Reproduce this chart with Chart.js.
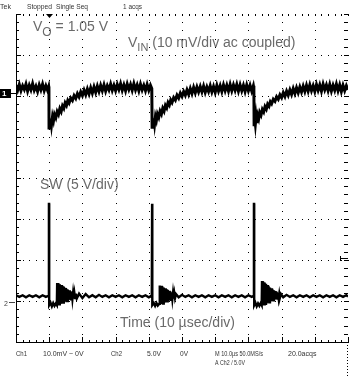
<!DOCTYPE html>
<html>
<head>
<meta charset="utf-8">
<script src="https://cdn.jsdelivr.net/npm/chart.js@4.4.0/dist/chart.umd.min.js"></script>
<style>
  html, body { margin: 0; padding: 0; background: #fff; }
  canvas { display: block; }
</style>
</head>
<body>
<canvas id="scopeChart" width="349" height="376"></canvas>
<script>
// scope screen: 10 div x 10 us, 8 div vertical (values are in divisions)
const timeRange = [0, 100];
const divRange = [-4, 4];

// Ch1 VIN (10 mV/div ac coupled), [time us, div]
const vinTrace = [
  [0,2.26],[0.5,2.14],[1,2.28],[1.5,2.13],[2,2.25],[2.5,2.16],[3,2.29],[3.5,2.12],[4,2.26],[4.5,2.15],
  [5,2.30],[5.5,2.14],[6,2.24],[6.5,2.11],[7,2.27],[7.5,2.15],[8,2.29],[8.5,2.13],[9,2.25],[9.5,2.14],[9.85,2.23],
  [9.92,2.18],[9.95,1.22],[10.1,1.42],[10.3,1.27],[10.5,1.45],[10.7,1.30],[11,1.50],[11.3,1.40],[11.6,1.55],
  [12,1.47],[12.4,1.62],[12.8,1.55],[13.2,1.69],[13.6,1.62],[14,1.76],[14.4,1.70],[14.8,1.83],[15.2,1.77],
  [15.6,1.89],[16,1.83],[16.5,1.95],[17,1.89],[17.5,2.01],[18,1.94],[18.5,2.06],[19,1.98],[19.5,2.10],
  [20,2.01],[20.5,2.14],[21,2.03],[21.5,2.17],[22,2.05],[22.5,2.20],[23,2.07],[23.5,2.22],[24,2.09],
  [24.5,2.24],[25,2.11],[25.5,2.26],[26,2.13],[26.5,2.27],[27,2.12],[27.5,2.25],[28,2.15],[28.5,2.29],
  [29,2.14],[29.5,2.26],[30,2.13],[30.5,2.28],[31,2.16],[31.5,2.30],[32,2.14],[32.5,2.27],[33,2.13],
  [33.5,2.29],[34,2.16],[34.5,2.28],[35,2.14],[35.5,2.30],[36,2.15],[36.5,2.27],[37,2.13],[37.5,2.29],
  [38,2.15],[38.5,2.26],[39,2.13],[39.5,2.28],[40,2.14],[40.5,2.26],[40.9,2.18],
  [41.0,1.24],[41.15,1.44],[41.35,1.29],[41.55,1.46],[41.75,1.32],[42,1.50],[42.3,1.41],[42.6,1.56],
  [43,1.48],[43.4,1.63],[43.8,1.56],[44.2,1.70],[44.6,1.63],[45,1.77],[45.4,1.71],[45.8,1.84],[46.2,1.78],
  [46.6,1.90],[47,1.84],[47.5,1.96],[48,1.90],[48.5,2.02],[49,1.95],[49.5,2.07],[50,1.99],[50.5,2.11],
  [51,2.02],[51.5,2.15],[52,2.04],[52.5,2.18],[53,2.06],[53.5,2.21],[54,2.08],[54.5,2.22],[55,2.10],
  [55.5,2.23],[56,2.10],[56.5,2.24],[57,2.09],[57.5,2.22],[58,2.11],[58.5,2.25],[59,2.10],[59.5,2.23],
  [60,2.09],[60.5,2.26],[61,2.12],[61.5,2.25],[62,2.11],[62.5,2.27],[63,2.13],[63.5,2.26],[64,2.12],
  [64.5,2.28],[65,2.13],[65.5,2.27],[66,2.14],[66.5,2.28],[67,2.12],[67.5,2.27],[68,2.13],[68.5,2.26],
  [69,2.11],[69.5,2.27],[70,2.13],[70.5,2.26],[71,2.12],[71.5,2.25],[71.65,2.18],
  [71.72,1.30],[71.9,1.47],[72.1,1.32],[72.3,1.49],[72.5,1.34],[72.8,1.53],[73.1,1.45],[73.4,1.60],
  [73.8,1.53],[74.2,1.67],[74.6,1.61],[75,1.74],[75.4,1.68],[75.8,1.80],[76.2,1.75],[76.6,1.86],[77,1.81],
  [77.5,1.92],[78,1.87],[78.5,1.98],[79,1.92],[79.5,2.03],[80,1.96],[80.5,2.08],[81,1.99],[81.5,2.12],
  [82,2.02],[82.5,2.15],[83,2.04],[83.5,2.18],[84,2.06],[84.5,2.20],[85,2.08],[85.5,2.22],[86,2.10],
  [86.5,2.24],[87,2.11],[87.5,2.26],[88,2.12],[88.5,2.27],[89,2.13],[89.5,2.25],[90,2.11],[90.5,2.28],
  [91,2.14],[91.5,2.27],[92,2.12],[92.5,2.29],[93,2.15],[93.5,2.27],[94,2.13],[94.5,2.28],[95,2.12],
  [95.5,2.26],[96,2.14],[96.5,2.29],[97,2.13],[97.5,2.27],[98,2.11],[98.5,2.26],[99,2.13],[99.5,2.25],[100,2.15]
];

// Ch2 SW (5 V/div), [time us, div]
const swTrace = [
  [0,-2.86],[1,-2.90],[2,-2.86],[3,-2.91],[4,-2.86],[5,-2.90],[6,-2.86],[7,-2.91],[8,-2.86],[9,-2.90],[9.85,-2.87],
  [9.9,-2.87],[9.93,-0.63],[9.97,-0.63],[10.0,-3.10],
  [10.4,-3.04],[10.8,-3.13],[11.2,-3.05],[11.6,-3.12],[12.0,-3.06],[12.3,-3.10],
  [12.4,-2.56],[12.6,-3.09],[12.8,-2.57],[13.0,-3.08],[13.2,-2.59],[13.4,-3.07],[13.6,-2.61],[13.8,-3.06],
  [14.0,-2.63],[14.2,-3.04],[14.4,-2.65],[14.6,-3.03],[14.8,-2.68],[15.0,-3.01],[15.2,-2.70],[15.4,-3.00],
  [15.6,-2.72],[15.8,-2.98],[16.0,-2.74],[16.2,-2.97],[16.4,-2.76],[16.6,-2.96],[16.8,-2.78],[17.0,-2.95],
  [17.2,-2.80],[17.4,-2.94],[17.6,-2.81],[17.8,-2.93],[18.0,-2.82],[18.3,-2.94],
  [19,-2.82],[20,-2.93],[21,-2.83],[22,-2.91],[23,-2.86],[24,-2.91],[25,-2.85],[26,-2.90],[27,-2.86],
  [28,-2.91],[29,-2.86],[30,-2.90],[31,-2.86],[32,-2.91],[33,-2.86],[34,-2.90],[35,-2.86],[36,-2.91],
  [37,-2.86],[38,-2.90],[39,-2.86],[40,-2.91],[40.9,-2.87],
  [40.95,-2.87],[41.0,-0.63],[41.04,-0.63],[41.07,-3.10],
  [41.5,-3.05],[41.9,-3.12],[42.3,-3.05],[42.7,-3.11],[43.1,-3.07],
  [43.3,-2.62],[43.5,-3.08],[43.7,-2.63],[43.9,-3.07],[44.1,-2.65],[44.3,-3.06],[44.5,-2.67],[44.7,-3.04],
  [44.9,-2.69],[45.1,-3.03],[45.3,-2.71],[45.5,-3.01],[45.7,-2.73],[45.9,-3.00],[46.1,-2.75],[46.3,-2.98],
  [46.5,-2.77],[46.7,-2.97],[46.9,-2.79],[47.1,-2.95],[47.3,-2.80],[47.5,-2.94],[47.7,-2.82],[47.9,-2.93],[48.2,-2.83],
  [49,-2.91],[50,-2.85],[51,-2.90],[52,-2.86],[53,-2.91],[54,-2.86],[55,-2.90],[56,-2.86],[57,-2.91],
  [58,-2.86],[59,-2.90],[60,-2.86],[61,-2.91],[62,-2.86],[63,-2.90],[64,-2.86],[65,-2.91],[66,-2.86],
  [67,-2.90],[68,-2.86],[69,-2.91],[70,-2.86],[71,-2.90],[71.6,-2.87],
  [71.65,-2.87],[71.68,-0.63],[71.72,-0.63],[71.75,-3.10],
  [72.1,-3.04],[72.5,-3.13],[72.9,-3.06],[73.3,-3.12],[73.7,-3.05],[74.0,-3.10],
  [74.1,-2.51],[74.3,-3.09],[74.5,-2.53],[74.7,-3.08],[74.9,-2.55],[75.1,-3.07],[75.3,-2.58],[75.5,-3.06],
  [75.7,-2.61],[75.9,-3.04],[76.1,-2.64],[76.3,-3.03],[76.5,-2.67],[76.7,-3.01],[76.9,-2.69],[77.1,-3.00],
  [77.3,-2.72],[77.5,-2.98],[77.7,-2.74],[77.9,-2.97],[78.1,-2.76],[78.3,-2.95],[78.5,-2.78],[78.7,-2.94],
  [78.9,-2.80],[79.1,-2.93],[79.3,-2.82],[79.5,-2.92],[79.8,-2.83],
  [80.5,-2.91],[81.5,-2.85],[82.5,-2.90],[83.5,-2.86],[84.5,-2.91],[85.5,-2.86],[86.5,-2.90],[87.5,-2.86],
  [88.5,-2.91],[89.5,-2.86],[90.5,-2.90],[91.5,-2.86],[92.5,-2.91],[93.5,-2.86],[94.5,-2.90],[95.5,-2.86],
  [96.5,-2.91],[97.5,-2.86],[98.5,-2.90],[99.5,-2.86],[100,-2.89]
];

// text on the screen
const headerText = ['Tek', 'Stopped', 'Single Seq', '1 acqs'];
const footerText = ['Ch1', '10.0mV ~ 0V', 'Ch2', '5.0V', '0V', 'M 10.0\u00b5s 50.0MS/s', '20.0acqs', 'A Ch2 / 5.0V'];
const labelFont = '"Liberation Sans", Arial, sans-serif';

function toPoints(trace) {
    return trace.map(p => ({ x: p[0], y: p[1] }));
}

//============================== GRID + FRAME ===========================
const scopeFrame = {
    id: 'scopeFrame',
    beforeDatasetsDraw(chart) {
        const ctx = chart.ctx;
        const xs = chart.scales.x;
        const ys = chart.scales.y;
        const a = chart.chartArea;
        ctx.save();
        ctx.fillStyle = '#000';
        // dotted graticule: dots every minor division along each major line
        for (let t = 10; t <= 100; t += 10) {
            const px = Math.min(Math.round(xs.getPixelForValue(t)), chart.width - 2);
            for (let i = 0; i <= 40; i++) {
                ctx.fillRect(px, Math.round(ys.getPixelForValue(-4 + i * 0.2)), 1, 1);
            }
        }
        for (let v = -3; v <= 4; v += 1) {
            const py = Math.round(ys.getPixelForValue(v));
            for (let t = 0; t <= 100; t += 2) {
                ctx.fillRect(Math.round(xs.getPixelForValue(t)), py, 1, 1);
            }
        }
        ctx.strokeStyle = '#000';
        ctx.lineWidth = 1;
        ctx.beginPath();
        for (let t = 0; t <= 100; t += 2) {
            const px = Math.round(xs.getPixelForValue(t)) + 0.5;
            const len = (t % 10 === 0) ? 5 : 2;
            ctx.moveTo(px, a.bottom);
            ctx.lineTo(px, a.bottom - len);
            ctx.moveTo(px, a.top);
            ctx.lineTo(px, a.top + 2);
        }
        for (let i = 0; i <= 40; i++) {
            const py = Math.round(ys.getPixelForValue(-4 + i * 0.2)) + 0.5;
            const len = (i % 5 === 0) ? 5 : 3;
            ctx.moveTo(a.left, py);
            ctx.lineTo(a.left + len, py);
            ctx.moveTo(a.right - 1, py);
            ctx.lineTo(a.right - 4, py);
        }
        ctx.stroke();
        // right edge runs on below the screen
        for (let py = Math.round(a.bottom); py < chart.height; py += 3) {
            ctx.fillRect(chart.width - 2, py, 1, 1);
        }
        ctx.restore();
    }
};

//============================== TEXT ===========================
const scopeText = {
    id: 'scopeText',
    afterDraw(chart) {
        const ctx = chart.ctx;
        ctx.save();
        // status lines
        ctx.fillStyle = '#333';
        ctx.font = '7px ' + labelFont;
        ctx.fillText(headerText[0], 0, 9, 11);
        ctx.fillText(headerText[1], 27, 9, 25);
        ctx.fillText(headerText[2], 56, 9, 32);
        ctx.fillText(headerText[3], 123, 9, 19);
        ctx.fillText(footerText[0], 16, 356, 11);
        ctx.fillText(footerText[1], 43, 356, 47);
        ctx.fillText(footerText[2], 111, 356, 11);
        ctx.fillText(footerText[3], 147, 356, 14);
        ctx.fillText(footerText[4], 180, 356, 8);
        ctx.fillText(footerText[5], 215, 356, 48);
        ctx.fillText(footerText[6], 288, 356, 30);
        ctx.fillText(footerText[7], 215, 365, 30);

        // channel markers
        const ys = chart.scales.y;
        const y1 = Math.round(ys.getPixelForValue(2.08));
        ctx.fillStyle = '#000';
        ctx.fillRect(0, y1 - 4, 11, 9);
        ctx.fillStyle = '#fff';
        ctx.font = 'bold 8px ' + labelFont;
        ctx.fillText('1', 2, y1 + 3);
        ctx.fillStyle = '#000';
        ctx.fillRect(11, y1, 5, 1);
        ctx.fillStyle = '#444';
        ctx.font = '7px ' + labelFont;
        ctx.fillText('2', 4, 306);
        ctx.fillRect(9, 302, 6, 1);
        // trigger position / level
        const xs = chart.scales.x;
        const tx = Math.round(xs.getPixelForValue(9.95));
        ctx.fillStyle = '#000';
        ctx.beginPath();
        ctx.moveTo(tx - 3, 14);
        ctx.lineTo(tx + 4, 14);
        ctx.lineTo(tx + 0.5, 18);
        ctx.closePath();
        ctx.fill();
        ctx.fillRect(340, 258, 8, 1);
        ctx.fillRect(340, 256, 1, 5);

        // annotation labels
        ctx.fillStyle = '#6a6a6a';
        let x = 33;
        ctx.font = '14px ' + labelFont;
        ctx.fillText('V', x, 31);
        x += ctx.measureText('V').width;
        ctx.font = '12px ' + labelFont;
        ctx.fillText('O', x, 36);
        x += ctx.measureText('O').width;
        ctx.font = '14px ' + labelFont;
        ctx.fillText(' = 1.05 V', x, 31);

        x = 128;
        ctx.fillText('V', x, 47);
        x += ctx.measureText('V').width;
        ctx.font = '11px ' + labelFont;
        ctx.fillText('IN', x, 51);
        x += ctx.measureText('IN').width;
        ctx.font = '14px ' + labelFont;
        ctx.fillText(' (10 mV/div ac coupled)', x, 47);

        ctx.fillText('SW (5 V/div)', 40, 189);
        ctx.fillText('Time (10 \u00b5sec/div)', 120, 327);
        ctx.restore();
    }
};

//============================== CHART ===========================
const scopeConfig = {
    type: 'line',
    data: {
        datasets: [
            {
                label: 'VIN',
                data: toPoints(vinTrace),
                borderColor: '#000',
                borderWidth: 3,
                pointRadius: 0,
                tension: 0,
                fill: false
            },
            {
                label: 'SW',
                data: toPoints(swTrace),
                borderColor: '#000',
                borderWidth: 2.4,
                pointRadius: 0,
                tension: 0,
                fill: false
            }
        ]
    },
    options: {
        responsive: false,
        maintainAspectRatio: false,
        devicePixelRatio: 1,
        animation: false,
        layout: { padding: { left: 16, top: 14, right: 1, bottom: 34 } },
        plugins: { legend: { display: false }, tooltip: { enabled: false } },
        scales: {
            x: {
                type: 'linear',
                min: timeRange[0],
                max: timeRange[1],
                ticks: { display: false, stepSize: 10 },
                grid: { display: false, drawTicks: false },
                border: { display: true, color: '#000', width: 1 }
            },
            y: {
                type: 'linear',
                min: divRange[0],
                max: divRange[1],
                ticks: { display: false, stepSize: 1 },
                grid: { display: false, drawTicks: false },
                border: { display: true, color: '#000', width: 1 }
            }
        }
    },
    plugins: [scopeFrame, scopeText]
};

const scopeChart = new Chart(document.getElementById('scopeChart').getContext('2d'), scopeConfig);
</script>
</body>
</html>
